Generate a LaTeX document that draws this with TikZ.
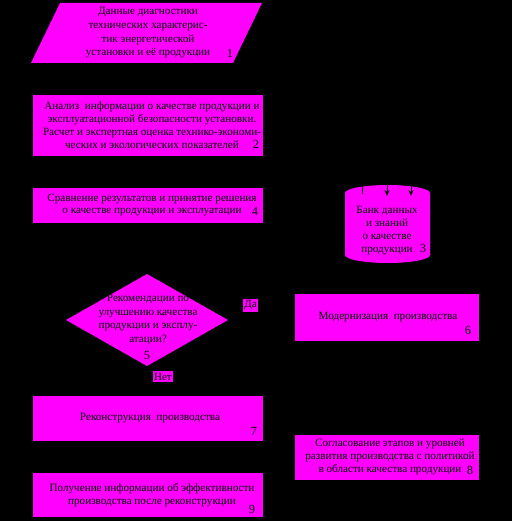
\documentclass[tikz,border=0pt]{standalone}
\usepackage{fontspec}
\setmainfont{Liberation Serif}
\usetikzlibrary{arrows.meta}
\definecolor{mag}{RGB}{255,0,255}
\begin{document}
\begin{tikzpicture}[x=1bp,y=-1bp,
  box/.style={fill=mag,draw=none,inner sep=0pt},
  txt/.style={font=\fontsize{11.2}{13}\selectfont,align=center,text=black,inner sep=0pt},
  txtw/.style={font=\fontsize{11.2}{13.7}\selectfont,align=center,text=black,inner sep=0pt},
  num/.style={font=\fontsize{12.5}{13}\selectfont,text=black,inner sep=0pt},
  lbl/.style={fill=mag,font=\fontsize{11}{13}\selectfont,text=black,inner sep=1.5pt},
  blk/.style={draw=black,line width=1pt,-{Stealth[length=6pt,width=5pt]}}]
\fill[black] (0,0) rectangle (512,521);
\useasboundingbox (0,0) rectangle (512,521);
% shapes
\fill[mag] (60,3) -- (262,3) -- (233,63) -- (31,63) -- cycle;
\node[box,minimum width=230bp,minimum height=61bp] (b2) at (148,125.5) {};
\node[box,minimum width=230bp,minimum height=35bp] (b4) at (148,205.5) {};
\fill[mag] (345,193) -- (345,255) arc[start angle=180,end angle=0,x radius=42.5,y radius=8]
  -- (430,193) arc[start angle=0,end angle=-180,x radius=42.5,y radius=8] -- cycle;
\fill[mag] (66,320) -- (147,274) -- (228,320) -- (147,366) -- cycle;
\node[box,minimum width=184bp,minimum height=47bp] (b6) at (387,317.5) {};
\node[box,minimum width=230bp,minimum height=45bp] (b7) at (148,418.5) {};
\node[box,minimum width=184bp,minimum height=45bp] (b8) at (387,457.5) {};
\node[box,minimum width=230bp,minimum height=44bp] (b9) at (148,495) {};
% texts
\node[txtw] (t1) at (148,33) {Данные диагностики\\технических характерис-\\тик энергетической\\установки и её продукции};
\node[num] (n1) at (230,53) {1};
\node[txt] (t2) at (152,125) {Анализ\ \ информации о качестве продукции и\\эксплуатационной безопасности установки.\\Расчет и экспертная оценка технико-экономи-\\ческих и экологических показателей};
\node[num] (n2) at (256,144) {2};
\node[txt] (t4) at (152,205) {Сравнение результатов и принятие решения\\о качестве продукции и эксплуатации};
\node[num] (n4) at (255,211) {4};
\node[txt] (t3) at (387,230.5) {Банк данных\\и знаний\\о качестве\\продукции};
\node[num] (n3) at (423,248) {3};
\node[txtw] (t5) at (148,319.5) {Рекомендации по\\улучшению качества\\продукции и эксплу-\\атации?};
\node[num] (n5) at (147,355) {5};
\node[txt] (t6) at (388,317) {Модернизация\ \ производства};
\node[num] (n6) at (468,330) {6};
\node[txt] (t7) at (150,418) {Реконструкция\ \ производства};
\node[num] (n7) at (254,431) {7};
\node[txt] (t8) at (390,457) {Согласование этапов и уровней\\развития производства с политикой\\в области качества продукции};
\node[num] (n8) at (470,470) {8};
\node[txt] (t9) at (152,495.5) {Получение информации об эффективности\\производства после реконструкции};
\node[num] (n9) at (252,509) {9};
\node[lbl] (da) at (250.5,305.5) {Да};
\node[lbl] (net) at (163,376.5) {Нет};
% connector ends into the cylinder
\coordinate (c1) at (362,175);
\coordinate (c1e) at (362,194);
\coordinate (c2) at (387,175);
\coordinate (c2e) at (387,196);
\coordinate (c3) at (411,175);
\coordinate (c3e) at (411,196);
\draw[draw=black,line width=1pt] (c1) -- (c1e);
\draw[blk] (c2) -- (c2e);
\draw[blk] (c3) -- (c3e);
\end{tikzpicture}
\end{document}
